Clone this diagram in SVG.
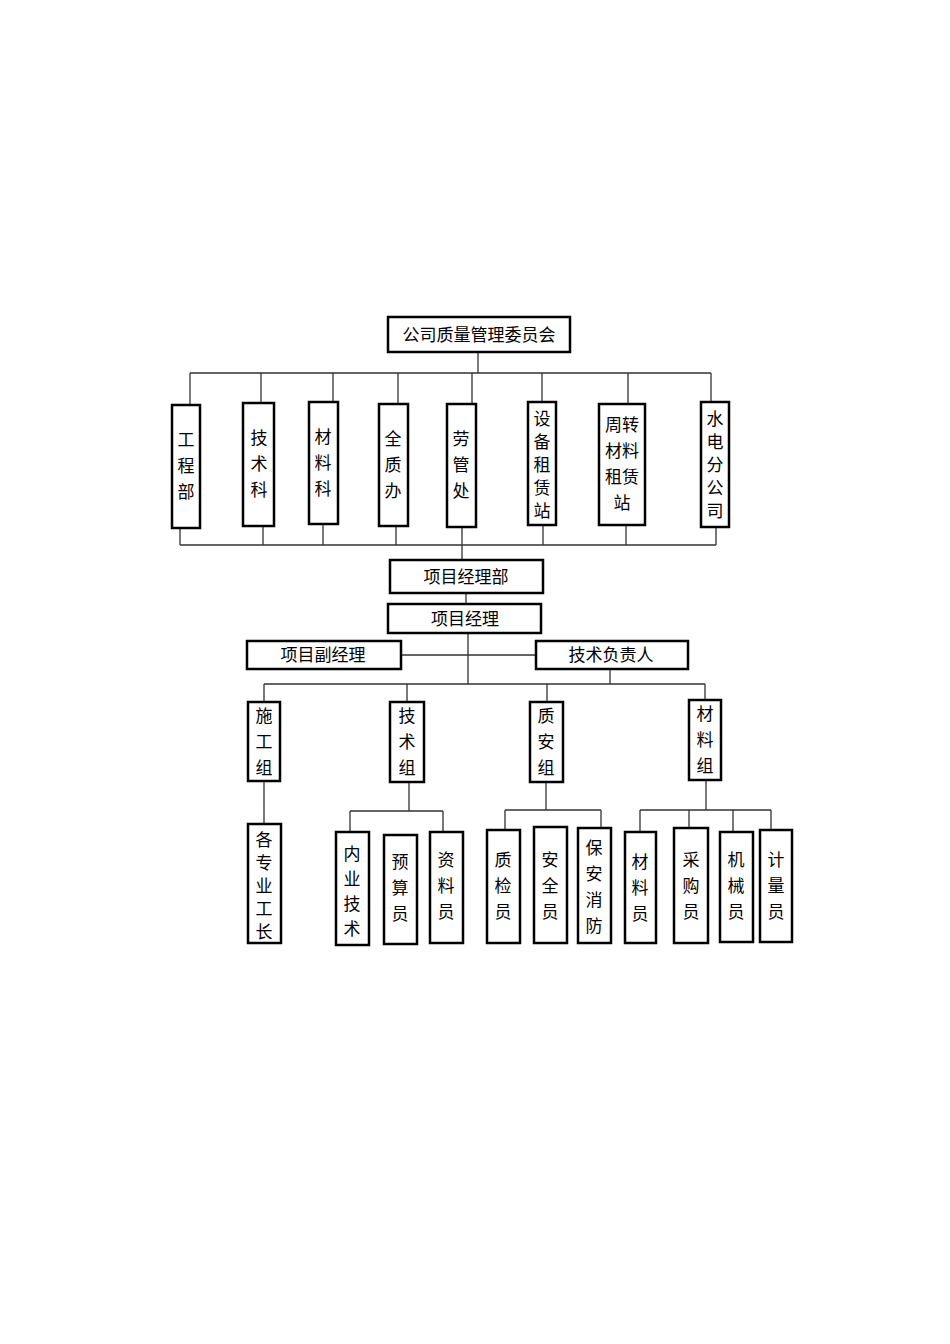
<svg xmlns="http://www.w3.org/2000/svg" width="950" height="1344" viewBox="0 0 950 1344">
<style>
rect{fill:#fff;stroke:#000;stroke-width:2.5}
text{font-family:"Noto Sans CJK SC","Liberation Sans",sans-serif;font-size:17px;fill:#000;text-anchor:middle}
#connectors path{fill:none;stroke:#333;stroke-width:1.3}
</style>
<rect x="0" y="0" width="950" height="1344" style="stroke:none"/>
<g id="connectors">
<path d="M478 352V373M190 373H711M190 373V405M261 373V403M333 373V402M398 373V404M472 373V404M542 373V402M628 373V404M711 373V402"/>
<path d="M180 545H716M180 528V545M263 526V545M323 524V545M396 526V545M462 527V560M543 525V545M626 525V545M716 527V545"/>
<path d="M466 593V604M468 633V684M400 655H536M610 669V684M264 684H705M264 684V702M407 684V702M547 684V702M705 684V700"/>
<path d="M264 781V824M409 782V811M350 811H443M350 811V832M443 811V832"/>
<path d="M546 782V810M505 810H601M505 810V830M601 810V828"/>
<path d="M706 780V810M640 810H771M640 810V832M689 810V828M733 810V832M771 810V830"/>
</g>
<g id="n-top"><rect x="388" y="317" width="182" height="35"/><text x="479" y="341">公司质量管理委员会</text></g>
<g id="n-gcb"><rect x="172" y="405" width="28" height="123"/><text><tspan x="186" y="446">工</tspan><tspan x="186" y="472">程</tspan><tspan x="186" y="498">部</tspan></text></g>
<g id="n-jsk"><rect x="243" y="403" width="31" height="123"/><text><tspan x="259" y="444">技</tspan><tspan x="259" y="470">术</tspan><tspan x="259" y="496">科</tspan></text></g>
<g id="n-clk"><rect x="309" y="402" width="29" height="122"/><text><tspan x="323" y="443">材</tspan><tspan x="323" y="469">料</tspan><tspan x="323" y="495">科</tspan></text></g>
<g id="n-qzb"><rect x="379" y="404" width="29" height="122"/><text><tspan x="393" y="445">全</tspan><tspan x="393" y="471">质</tspan><tspan x="393" y="497">办</tspan></text></g>
<g id="n-lgc"><rect x="447" y="404" width="29" height="123"/><text><tspan x="461" y="445">劳</tspan><tspan x="461" y="471">管</tspan><tspan x="461" y="497">处</tspan></text></g>
<g id="n-sbzlz"><rect x="528" y="402" width="28" height="123"/><text><tspan x="542" y="425">设</tspan><tspan x="542" y="448">备</tspan><tspan x="542" y="471">租</tspan><tspan x="542" y="494">赁</tspan><tspan x="542" y="517">站</tspan></text></g>
<g id="n-zzcl"><rect x="599" y="404" width="46" height="121"/><text><tspan x="622" y="431">周转</tspan><tspan x="622" y="457">材料</tspan><tspan x="622" y="483">租赁</tspan><tspan x="622" y="509">站</tspan></text></g>
<g id="n-sdfgs"><rect x="701" y="402" width="28" height="125"/><text><tspan x="715" y="425">水</tspan><tspan x="715" y="448">电</tspan><tspan x="715" y="471">分</tspan><tspan x="715" y="494">公</tspan><tspan x="715" y="517">司</tspan></text></g>
<g id="n-xmjlb"><rect x="390" y="560" width="153" height="33"/><text x="466" y="583">项目经理部</text></g>
<g id="n-xmjl"><rect x="388" y="604" width="153" height="29"/><text x="465" y="625">项目经理</text></g>
<g id="n-fjl"><rect x="247" y="641" width="154" height="28"/><text x="323" y="661">项目副经理</text></g>
<g id="n-jsfzr"><rect x="536" y="641" width="152" height="28"/><text x="611" y="661">技术负责人</text></g>
<g id="n-sgz"><rect x="248" y="702" width="32" height="79"/><text><tspan x="264" y="722">施</tspan><tspan x="264" y="748">工</tspan><tspan x="264" y="774">组</tspan></text></g>
<g id="n-jsz"><rect x="390" y="702" width="34" height="80"/><text><tspan x="407" y="722">技</tspan><tspan x="407" y="748">术</tspan><tspan x="407" y="774">组</tspan></text></g>
<g id="n-zaz"><rect x="530" y="702" width="33" height="80"/><text><tspan x="546" y="722">质</tspan><tspan x="546" y="748">安</tspan><tspan x="546" y="774">组</tspan></text></g>
<g id="n-clz"><rect x="689" y="700" width="32" height="80"/><text><tspan x="705" y="720">材</tspan><tspan x="705" y="746">料</tspan><tspan x="705" y="772">组</tspan></text></g>
<g id="n-gzygz"><rect x="248" y="824" width="33" height="119"/><text><tspan x="264" y="846">各</tspan><tspan x="264" y="869">专</tspan><tspan x="264" y="892">业</tspan><tspan x="264" y="915">工</tspan><tspan x="264" y="938">长</tspan></text></g>
<g id="n-nyjs"><rect x="336" y="832" width="33" height="113"/><text><tspan x="352" y="860">内</tspan><tspan x="352" y="885">业</tspan><tspan x="352" y="910">技</tspan><tspan x="352" y="935">术</tspan></text></g>
<g id="n-ysy"><rect x="384" y="835" width="33" height="109"/><text><tspan x="400" y="868">预</tspan><tspan x="400" y="894">算</tspan><tspan x="400" y="920">员</tspan></text></g>
<g id="n-zly"><rect x="430" y="832" width="33" height="111"/><text><tspan x="446" y="866">资</tspan><tspan x="446" y="892">料</tspan><tspan x="446" y="918">员</tspan></text></g>
<g id="n-zjy"><rect x="487" y="830" width="33" height="113"/><text><tspan x="503" y="866">质</tspan><tspan x="503" y="892">检</tspan><tspan x="503" y="918">员</tspan></text></g>
<g id="n-aqy"><rect x="534" y="827" width="33" height="116"/><text><tspan x="550" y="866">安</tspan><tspan x="550" y="892">全</tspan><tspan x="550" y="918">员</tspan></text></g>
<g id="n-baxf"><rect x="578" y="828" width="33" height="115"/><text><tspan x="594" y="854">保</tspan><tspan x="594" y="880">安</tspan><tspan x="594" y="906">消</tspan><tspan x="594" y="932">防</tspan></text></g>
<g id="n-cly"><rect x="625" y="832" width="31" height="111"/><text><tspan x="640" y="868">材</tspan><tspan x="640" y="894">料</tspan><tspan x="640" y="920">员</tspan></text></g>
<g id="n-cgy"><rect x="674" y="828" width="34" height="115"/><text><tspan x="691" y="866">采</tspan><tspan x="691" y="892">购</tspan><tspan x="691" y="918">员</tspan></text></g>
<g id="n-jxy"><rect x="720" y="832" width="33" height="110"/><text><tspan x="736" y="866">机</tspan><tspan x="736" y="892">械</tspan><tspan x="736" y="918">员</tspan></text></g>
<g id="n-jly"><rect x="760" y="830" width="32" height="112"/><text><tspan x="776" y="866">计</tspan><tspan x="776" y="892">量</tspan><tspan x="776" y="918">员</tspan></text></g>
</svg>
